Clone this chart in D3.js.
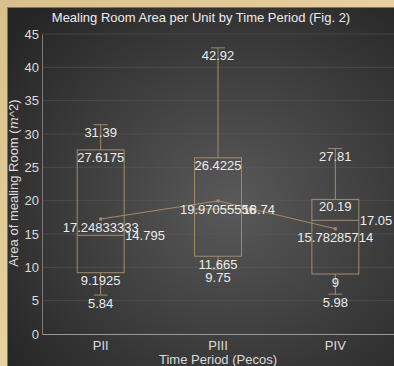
<!DOCTYPE html>
<html><head><meta charset="utf-8">
<script src="https://cdn.jsdelivr.net/npm/d3@7"></script>
<style>
html,body{margin:0;padding:0;background:#2a2a2a;overflow:hidden;}
svg{display:block;font-family:"Liberation Sans",Arial,Helvetica,sans-serif;}
</style></head><body>
<svg id="c" width="394" height="366"></svg>
<script>
const categories = ["PII", "PIII", "PIV"];
const minVals = [5.84, 9.75, 5.98];
const q1Vals = [9.1925, 11.665, 9];
const medianVals = [14.795, 18.74, 17.05];
const q3Vals = [27.6175, 26.4225, 20.19];
const maxVals = [31.39, 42.92, 27.81];
const meanVals = [17.24833333, 19.97055556, 15.78285714];
const meanLabels = ["17.24833333", "19.97055556", "15.78285714"];
const yTicks = [0, 5, 10, 15, 20, 25, 30, 35, 40, 45];

const W = 394, H = 366;
const svg = d3.select("#c");
const defs = svg.append("defs");
const rg = defs.append("radialGradient").attr("id","bg").attr("cx","55%").attr("cy","52%").attr("r","72%");
rg.append("stop").attr("offset","0%").attr("stop-color","#595959");
rg.append("stop").attr("offset","100%").attr("stop-color","#242424");
const wg = defs.append("linearGradient").attr("id","wood").attr("x1","0").attr("y1","0").attr("x2","1").attr("y2","1");
wg.append("stop").attr("offset","0%").attr("stop-color","#d9c08a");
wg.append("stop").attr("offset","50%").attr("stop-color","#e6d2a0");
wg.append("stop").attr("offset","100%").attr("stop-color","#c8ad74");

// wood frame (left and top only visible)
svg.append("rect").attr("x",0).attr("y",0).attr("width",W+10).attr("height",H+10).attr("fill","url(#wood)");
svg.append("rect").attr("x",7).attr("y",7).attr("width",W+10).attr("height",H+10).attr("fill","#8a7448");
svg.append("rect").attr("x",8).attr("y",8).attr("width",W+10).attr("height",H+10).attr("fill","url(#bg)");

const m = {left:42, right:0, top:34, bottom:32};
const x = d3.scaleBand().domain(categories).range([m.left, W - m.right]).paddingInner(0).paddingOuter(0);
const y = d3.scaleLinear().domain([0, 45]).range([H - m.bottom, m.top]);

const boxColor = "#a38c69";
const textColor = "#ececec";

// grid
svg.append("g").selectAll("line").data(yTicks.slice(1)).join("line")
  .attr("x1", m.left).attr("x2", W).attr("y1", d=>y(d)).attr("y2", d=>y(d))
  .attr("stroke","#5e5e5e").attr("stroke-opacity",0.5).attr("stroke-width",1);

// axes
const yAxis = svg.append("g").attr("transform",`translate(${m.left},0)`)
  .call(d3.axisLeft(y).tickValues(yTicks).tickSize(0).tickPadding(3));
yAxis.select(".domain").attr("stroke","#7a7a7a");
yAxis.selectAll("text").attr("fill","#dcdcdc").attr("font-size",13).attr("font-family","Liberation Sans, Arial, sans-serif");

const xAxis = svg.append("g").attr("transform",`translate(0,${y(0)})`)
  .call(d3.axisBottom(x).tickSize(0).tickPadding(7));
xAxis.select(".domain").attr("stroke","#9a9a9a");
xAxis.selectAll("text").attr("fill","#dcdcdc").attr("font-size",13).attr("font-family","Liberation Sans, Arial, sans-serif");

const bw = x.bandwidth() * 0.4;
const capW = 14;
const data = categories.map((c,i)=>({c, min:minVals[i], q1:q1Vals[i], med:medianVals[i], q3:q3Vals[i], max:maxVals[i], mean:meanVals[i], meanLabel:meanLabels[i]}));
const cx = d => x(d.c) + x.bandwidth()/2;

const g = svg.append("g");
data.forEach(d => {
  const cxx = cx(d);
  g.append("line").attr("x1",cxx).attr("x2",cxx).attr("y1",y(d.max)).attr("y2",y(d.q3)).attr("stroke",boxColor);
  g.append("line").attr("x1",cxx).attr("x2",cxx).attr("y1",y(d.q1)).attr("y2",y(d.min)).attr("stroke",boxColor);
  g.append("line").attr("x1",cxx-capW/2).attr("x2",cxx+capW/2).attr("y1",y(d.max)).attr("y2",y(d.max)).attr("stroke",boxColor);
  g.append("line").attr("x1",cxx-capW/2).attr("x2",cxx+capW/2).attr("y1",y(d.min)).attr("y2",y(d.min)).attr("stroke",boxColor);
  g.append("rect").attr("x",cxx-bw/2).attr("y",y(d.q3)).attr("width",bw).attr("height",y(d.q1)-y(d.q3))
    .attr("fill","none").attr("stroke",boxColor).attr("stroke-width",1);
  g.append("line").attr("x1",cxx-bw/2).attr("x2",cxx+bw/2).attr("y1",y(d.med)).attr("y2",y(d.med)).attr("stroke",boxColor);
});

// mean line & points
const line = d3.line().x(d=>cx(d)).y(d=>y(d.mean));
g.append("path").datum(data).attr("d",line).attr("fill","none").attr("stroke",boxColor).attr("stroke-width",1);
g.selectAll("rect.mp").data(data).join("rect").attr("class","mp")
  .attr("x",d=>cx(d)-1.5).attr("y",d=>y(d.mean)-1.5).attr("width",3).attr("height",3).attr("fill",boxColor);

// labels
const lbl = svg.append("g").attr("fill",textColor).attr("font-size",13);
function t(xp, yp, s, anchor){
  lbl.append("text").attr("x",xp).attr("y",yp).attr("dy","0.35em").attr("text-anchor",anchor).text(s);
}
data.forEach(d => {
  const cxx = cx(d);
  t(cxx, y(d.max)+7.5, d.max, "middle");
  t(cxx, y(d.q3)+7.5, d.q3, "middle");
  t(cxx, y(d.q1)+8, d.q1, "middle");
  t(cxx, y(d.min)+8, d.min, "middle");
  t(cxx+bw/2+1, y(d.med)+0.5, d.med, "start");
  t(cxx, y(d.mean)+8.5, d.meanLabel, "middle");
});

// title
svg.append("text").attr("x",201).attr("y",22).attr("text-anchor","middle").attr("fill",textColor).attr("font-size",13)
  .text("Mealing Room Area per Unit by Time Period (Fig. 2)");
// x title
svg.append("text").attr("x",218).attr("y",364).attr("text-anchor","middle").attr("fill","#dcdcdc").attr("font-size",13)
  .text("Time Period (Pecos)");
// y title
const yt = svg.append("text").attr("transform",`translate(18,${183}) rotate(-90)`).attr("text-anchor","middle")
  .attr("fill","#dcdcdc").attr("font-size",13);
yt.append("tspan").text("Area of mealing Room (");
yt.append("tspan").attr("font-style","italic").attr("font-family","DejaVu Serif, serif").text("m");
yt.append("tspan").text("^2)");
</script>
</body></html>
